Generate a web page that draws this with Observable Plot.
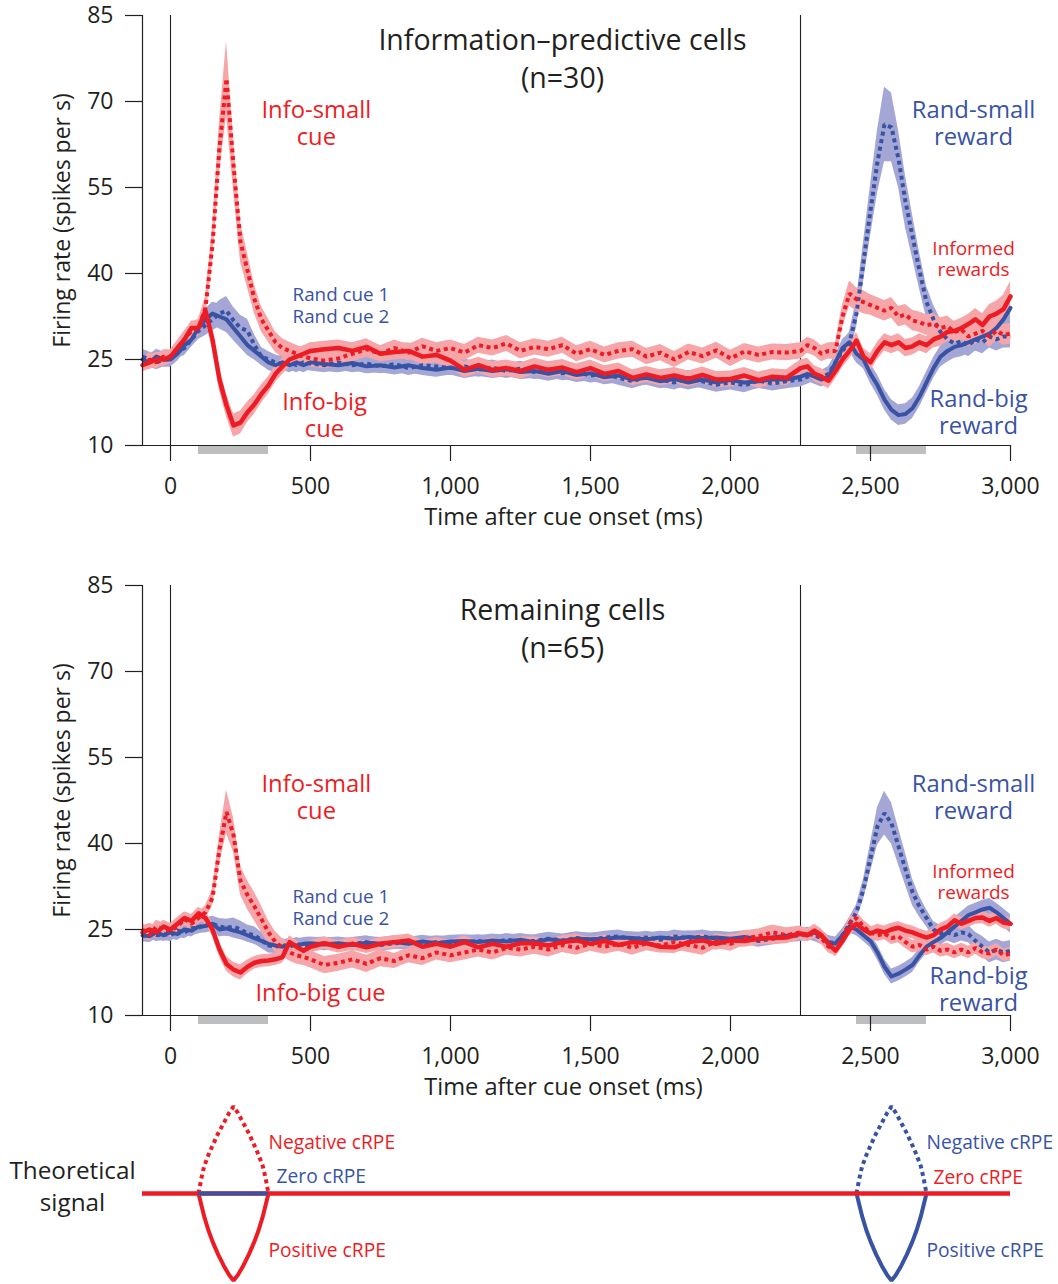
<!DOCTYPE html>
<html>
<head>
<meta charset="utf-8">
<script src="https://cdn.jsdelivr.net/npm/d3@7"></script>
<script src="https://cdn.jsdelivr.net/npm/@observablehq/plot@0.6"></script>
<style>
  html, body { margin: 0; padding: 0; background: #fff; }
  #wrap { position: relative; width: 1058px; height: 1284px; font-family: "Open Sans", sans-serif; }
  .pane { position: absolute; left: 0; }
</style>
</head>
<body>
<div id="wrap"></div>
<script>
// ---------------- DATA ----------------
const time = [-100,-75,-50,-25,0,25,50,75,100,125,150,175,200,225,250,275,300,325,350,375,400,425,450,475,500,
  550,600,650,700,750,800,850,900,950,1000,1050,1100,1150,1200,1250,1300,1350,1400,1450,1500,1550,1600,1650,1700,1750,1800,1850,1900,1950,2000,2050,2100,2150,2200,
  2250,2275,2300,2325,2350,2375,2400,2425,2450,2475,2500,2525,2550,2575,2600,2625,2650,2675,2700,2725,2750,2775,2800,2825,2850,2875,2900,2925,2950,2975,3000];

const xTicks = [0,500,1000,1500,2000,2500,3000];
const yTicks = [10,25,40,55,70,85];
const eventTimes = [0, 2250];
const windows = [{name:"cue", start:100, end:350}, {name:"reward", start:2450, end:2700}];

// Panel 1: Information-predictive cells (n=30)
const p1InfoSmall = [24.0,25.0,24.5,25.5,25.5,27.0,28.5,30.0,30.5,34.0,45.0,62.0,74.0,59.0,45.5,40.5,35.5,32.0,30.0,28.0,27.0,26.5,26.0,25.5,25.2,
  24.8,25.2,26.0,26.8,26.0,27.0,26.2,27.3,26.5,27.0,26.2,27.5,27.0,27.8,26.5,27.2,26.8,27.5,26.0,26.8,25.8,26.5,26.8,25.5,26.2,25.0,26.3,25.6,26.6,25.2,26.4,25.8,26.3,26.2,
  26.5,27.5,27.0,26.0,26.5,26.5,32.5,36.5,35.5,35.0,34.5,34.0,33.5,34.0,32.5,32.8,31.8,31.5,31.0,31.2,30.5,30.8,29.8,30.2,29.0,29.5,30.0,29.0,30.0,29.3,29.5];
const p1InfoSmallSem = [1.2,1.2,1.2,1.2,1.2,1.3,1.5,1.5,1.5,2.0,3.0,4.5,6.5,4.5,3.5,3.0,2.5,2.2,2.0,1.8,1.6,1.5,1.5,1.5,1.5,
  1.4,1.4,1.4,1.4,1.4,1.4,1.4,1.4,1.4,1.4,1.4,1.4,1.4,1.4,1.4,1.4,1.4,1.4,1.4,1.4,1.4,1.4,1.4,1.4,1.4,1.4,1.4,1.4,1.4,1.4,1.4,1.4,1.4,1.4,
  1.4,1.4,1.4,1.4,1.4,1.5,2.0,2.2,2.0,2.0,1.8,1.8,1.8,1.8,1.8,1.8,1.8,1.8,1.8,1.8,1.8,1.8,1.8,1.8,1.8,1.8,1.8,1.8,1.8,1.8,1.8];
const p1InfoBig = [24.0,24.5,25.0,25.0,25.5,27.0,28.5,30.5,30.5,33.5,28.5,21.5,17.0,13.5,14.0,15.8,17.2,19.0,20.5,22.5,23.8,25.0,25.5,26.0,26.5,
  26.8,27.0,26.5,27.2,26.0,26.3,26.5,25.5,25.8,24.8,23.2,24.0,23.2,23.5,23.0,23.8,23.2,23.6,22.8,23.5,22.5,23.0,21.8,22.4,21.8,22.2,21.6,22.3,21.5,21.6,22.2,21.4,22.0,21.8,
  23.5,23.8,22.5,22.0,21.3,23.0,25.0,26.5,28.3,25.5,24.5,26.5,28.0,27.5,28.0,27.0,27.3,28.0,27.5,28.5,29.0,29.8,30.0,30.5,31.2,32.0,31.0,32.5,33.0,33.8,36.0];
const p1InfoBigSem = [1.2,1.2,1.2,1.2,1.2,1.2,1.2,1.2,1.2,1.5,1.8,2.0,2.0,2.0,2.0,1.8,1.7,1.6,1.5,1.5,1.4,1.4,1.4,1.4,1.4,
  1.4,1.4,1.4,1.4,1.4,1.4,1.4,1.4,1.4,1.4,1.4,1.4,1.4,1.4,1.4,1.4,1.4,1.4,1.4,1.4,1.4,1.4,1.4,1.4,1.4,1.4,1.4,1.4,1.4,1.4,1.4,1.4,1.4,1.4,
  1.4,1.4,1.4,1.4,1.4,1.4,1.4,1.4,1.4,1.4,1.5,1.5,1.5,1.5,1.5,1.5,1.5,1.5,1.5,1.5,1.7,1.7,1.7,1.7,1.7,1.9,2.0,2.1,2.2,2.4,2.6];
const p1RandSmall = [25.5,25.0,24.5,25.0,25.0,26.5,27.0,28.5,30.0,31.0,32.0,33.0,33.5,31.8,30.5,30.0,27.5,25.5,25.0,24.5,24.2,24.5,24.0,24.5,24.3,
  24.0,24.5,24.0,24.3,23.8,24.2,23.5,24.0,23.8,23.5,23.8,23.2,23.6,23.0,23.4,22.8,23.2,22.6,22.8,22.2,22.5,21.8,21.2,22.0,21.5,21.0,21.8,21.2,20.6,21.0,20.5,21.3,20.8,21.2,
  21.5,22.0,22.5,21.8,22.5,24.5,26.5,28.0,33.0,42.0,51.0,59.5,66.0,65.5,60.0,52.5,46.5,40.5,35.0,32.0,29.8,28.5,27.8,28.2,27.5,28.5,28.0,29.0,28.5,29.0,29.0];
const p1RandSmallSem = [1.3,1.3,1.3,1.3,1.3,1.3,1.3,1.3,1.5,1.8,2.0,2.3,2.5,2.3,2.2,2.0,1.8,1.6,1.4,1.3,1.3,1.3,1.3,1.3,1.3,
  1.3,1.3,1.3,1.3,1.3,1.3,1.3,1.3,1.3,1.3,1.3,1.3,1.3,1.3,1.3,1.3,1.3,1.3,1.3,1.3,1.3,1.3,1.3,1.3,1.3,1.3,1.3,1.3,1.3,1.3,1.3,1.3,1.3,1.3,
  1.3,1.3,1.3,1.3,1.3,1.3,1.5,1.8,2.5,3.5,4.5,5.5,6.5,6.0,5.0,4.5,3.8,3.2,2.8,2.5,2.2,2.0,2.0,2.0,2.0,2.0,2.0,2.0,2.0,2.0,2.0];
const p1RandBig = [25.0,24.5,25.5,25.0,25.0,26.0,27.5,28.5,30.5,32.0,33.0,32.5,32.0,30.5,29.0,27.5,26.5,25.5,24.5,24.0,24.5,24.0,24.5,24.0,24.5,
  24.2,24.0,24.4,23.8,24.0,23.6,24.0,23.5,23.2,23.6,23.0,23.4,23.0,23.3,22.8,23.0,22.5,23.0,22.3,22.6,21.9,22.2,21.5,21.8,21.2,21.6,21.0,21.5,21.0,21.4,21.0,21.2,21.5,21.5,
  22.0,22.5,22.0,21.5,22.0,24.5,27.0,28.0,26.0,25.0,22.5,20.5,18.0,16.2,15.3,15.5,16.5,18.5,21.0,23.5,25.5,26.5,27.2,27.5,28.0,28.5,29.0,29.5,30.5,32.0,34.0];
const p1RandBigSem = [1.3,1.3,1.3,1.3,1.3,1.3,1.3,1.3,1.5,1.8,2.0,2.2,2.3,2.2,2.0,1.8,1.6,1.5,1.4,1.3,1.3,1.3,1.3,1.3,1.3,
  1.3,1.3,1.3,1.3,1.3,1.3,1.3,1.3,1.3,1.3,1.3,1.3,1.3,1.3,1.3,1.3,1.3,1.3,1.3,1.3,1.3,1.3,1.3,1.3,1.3,1.3,1.3,1.3,1.3,1.3,1.3,1.3,1.3,1.3,
  1.3,1.3,1.3,1.3,1.3,1.3,1.5,1.6,1.6,1.6,1.7,1.8,1.8,1.8,1.8,1.8,1.8,1.8,1.8,1.8,1.8,2.0,2.0,2.0,2.0,2.0,2.2,2.3,2.5,2.8,3.0];

// Panel 2: Remaining cells (n=65)
const p2InfoSmall = [25.0,24.0,25.5,25.0,24.8,25.5,26.8,26.0,27.0,28.0,30.5,39.0,45.5,41.5,33.5,31.0,29.0,26.8,24.5,22.8,21.8,21.0,20.5,20.2,19.8,
  18.8,19.2,19.8,19.0,20.0,19.5,20.5,20.0,21.0,20.5,21.0,21.5,21.0,21.8,21.5,22.0,21.5,22.3,21.8,22.5,22.0,22.5,21.8,22.6,22.2,22.8,22.3,21.8,23.0,22.5,23.5,23.8,24.5,24.0,
  24.5,24.0,24.5,23.5,22.0,21.5,23.5,26.0,27.0,25.5,24.5,24.0,24.3,23.5,23.8,22.8,22.0,22.3,21.5,22.0,21.3,21.5,21.0,21.5,21.0,21.8,21.0,20.8,21.5,20.5,20.8];
const p2InfoSmallSem = [1.1,1.1,1.1,1.1,1.1,1.1,1.1,1.1,1.1,1.1,1.5,2.5,3.8,3.0,2.5,2.5,2.5,2.3,2.0,1.8,1.6,1.5,1.5,1.5,1.5,
  1.5,1.5,1.5,1.5,1.5,1.3,1.3,1.3,1.3,1.3,1.3,1.3,1.3,1.3,1.3,1.3,1.3,1.3,1.3,1.3,1.3,1.3,1.3,1.3,1.3,1.3,1.3,1.3,1.3,1.3,1.3,1.3,1.3,1.3,
  1.1,1.1,1.1,1.1,1.1,1.1,1.1,1.1,1.1,1.1,1.1,1.1,1.1,1.1,1.1,1.1,1.1,1.1,1.1,1.1,1.1,1.1,1.1,1.1,1.1,1.1,1.1,1.1,1.1,1.1,1.1];
const p2InfoBig = [24.5,25.0,24.5,25.5,25.0,26.0,27.0,26.5,27.8,27.0,25.0,21.5,19.0,18.0,17.5,18.5,19.2,19.5,19.6,19.8,20.2,22.8,22.0,21.3,22.0,
  22.6,22.0,22.5,21.9,22.5,22.8,23.1,22.0,22.5,22.0,22.8,21.9,22.5,22.0,22.6,22.6,22.2,22.8,23.1,22.5,23.0,22.3,22.8,22.6,22.0,21.9,22.8,23.1,22.5,23.1,23.0,23.4,23.5,23.6,
  24.3,24.0,24.8,24.0,22.5,21.3,23.0,25.0,26.0,25.0,24.3,24.8,24.5,25.0,25.3,24.8,24.5,24.0,23.6,24.0,25.0,25.5,26.6,26.0,26.5,27.0,27.1,26.5,27.0,26.2,26.0];
const p2InfoBigSem = [1.1,1.1,1.1,1.1,1.1,1.1,1.1,1.1,1.1,1.1,1.2,1.3,1.3,1.3,1.3,1.2,1.1,1.1,1.1,1.1,1.1,1.1,1.1,1.1,1.1,
  1.1,1.1,1.1,1.1,1.1,1.1,1.1,1.1,1.1,1.1,1.1,1.1,1.1,1.1,1.1,1.1,1.1,1.1,1.1,1.1,1.1,1.1,1.1,1.1,1.1,1.1,1.1,1.1,1.1,1.1,1.1,1.1,1.1,1.1,
  1.1,1.1,1.1,1.1,1.1,1.1,1.1,1.1,1.1,1.1,1.1,1.1,1.1,1.1,1.1,1.1,1.1,1.1,1.1,1.1,1.1,1.1,1.1,1.1,1.1,1.1,1.1,1.1,1.1,1.1,1.1];
const p2RandSmall = [23.8,24.5,24.0,24.2,24.0,24.8,24.5,25.2,25.3,25.8,26.0,25.5,25.3,25.5,25.0,24.3,24.0,23.1,22.2,22.0,22.3,22.0,22.5,22.2,22.4,
  22.6,22.2,22.5,22.8,22.3,22.6,22.8,22.5,22.8,22.6,22.8,23.0,22.7,23.2,22.9,23.0,23.4,23.1,23.5,23.2,23.6,23.8,23.3,23.6,23.2,23.8,23.5,23.8,23.4,23.2,23.6,23.0,23.4,23.8,
  24.0,24.3,24.0,23.5,22.8,22.6,24.0,26.0,28.0,32.0,37.5,43.0,45.3,43.5,39.5,35.5,31.5,29.0,27.0,25.0,24.3,24.5,24.0,24.5,24.2,23.0,22.0,21.0,21.5,21.0,21.3];
const p2RandSmallSem = [1.1,1.1,1.1,1.1,1.1,1.1,1.1,1.1,1.1,1.2,1.3,1.4,1.5,1.5,1.5,1.5,1.5,1.4,1.3,1.2,1.1,1.1,1.1,1.1,1.1,
  1.1,1.1,1.1,1.1,1.1,1.1,1.1,1.1,1.1,1.1,1.1,1.1,1.1,1.1,1.1,1.1,1.1,1.1,1.1,1.1,1.1,1.1,1.1,1.1,1.1,1.1,1.1,1.1,1.1,1.1,1.1,1.1,1.1,1.1,
  1.1,1.1,1.1,1.1,1.1,1.1,1.1,1.1,1.3,1.8,2.5,3.3,3.8,3.6,3.2,2.8,2.3,1.8,1.5,1.4,1.4,1.5,1.5,1.5,1.5,1.5,1.8,1.8,1.8,1.8,1.8];
const p2RandBig = [24.0,23.8,24.5,24.0,24.5,24.2,25.0,24.8,25.5,25.6,26.0,25.0,25.2,24.8,24.5,24.0,23.5,23.0,22.5,22.2,22.0,22.4,22.2,22.5,22.6,
  22.4,22.6,22.3,22.7,22.5,22.8,22.5,22.9,22.6,22.9,23.0,22.8,23.1,22.9,23.2,22.8,23.3,23.0,23.4,23.3,23.4,23.6,23.5,23.3,23.6,23.4,23.7,23.5,23.6,23.4,23.7,23.3,23.6,23.9,
  24.2,24.0,24.5,23.8,22.8,22.5,24.0,25.5,25.0,24.0,23.0,21.0,18.5,16.8,17.3,18.0,18.8,20.5,22.0,22.8,23.5,24.5,25.5,26.5,27.5,28.0,28.5,28.8,28.0,27.0,26.0];
const p2RandBigSem = [1.1,1.1,1.1,1.1,1.1,1.1,1.1,1.1,1.1,1.2,1.3,1.3,1.3,1.3,1.3,1.2,1.1,1.1,1.1,1.1,1.1,1.1,1.1,1.1,1.1,
  1.1,1.1,1.1,1.1,1.1,1.1,1.1,1.1,1.1,1.1,1.1,1.1,1.1,1.1,1.1,1.1,1.1,1.1,1.1,1.1,1.1,1.1,1.1,1.1,1.1,1.1,1.1,1.1,1.1,1.1,1.1,1.1,1.1,1.1,
  1.1,1.1,1.1,1.1,1.1,1.1,1.1,1.1,1.1,1.1,1.2,1.3,1.3,1.3,1.3,1.3,1.3,1.2,1.2,1.2,1.3,1.4,1.6,1.6,1.6,1.6,1.6,1.6,1.6,1.6,1.6];

// Theoretical signal: shape offsets (ms from window start) and amplitudes
const shapeOffset = [0,10,20,35,50,70,90,110,125,140,160,180,200,215,230,240,250];
const negativeShape = [0,0.17,0.31,0.44,0.55,0.69,0.81,0.93,1.0,0.93,0.81,0.69,0.55,0.44,0.31,0.17,0];
const positiveShape = [0,-0.13,-0.26,-0.42,-0.55,-0.7,-0.83,-0.94,-1.0,-0.94,-0.83,-0.7,-0.55,-0.42,-0.26,-0.13,0];

// Annotations (data coordinates)
const p1Labels = [
  {text:"Information\u2013predictive cells\n(n=30)", t:1400, v:77.8, kind:"title"},
  {text:"Info-small\ncue", t:521, v:66.2, kind:"bigRed"},
  {text:"Rand cue 1\nRand cue 2", t:436, v:34.6, kind:"randCue"},
  {text:"Info-big\ncue", t:550, v:15.4, kind:"bigRed"},
  {text:"Rand-small\nreward", t:2868, v:66.2, kind:"bigBlue"},
  {text:"Informed\nrewards", t:2868, v:42.5, kind:"informed"},
  {text:"Rand-big\nreward", t:2886, v:15.9, kind:"bigBlue"}
];
const p2Labels = [
  {text:"Remaining cells\n(n=65)", t:1400, v:77.8, kind:"title"},
  {text:"Info-small\ncue", t:521, v:48.1, kind:"bigRed"},
  {text:"Rand cue 1\nRand cue 2", t:436, v:29.0, kind:"randCue"},
  {text:"Info-big cue", t:536, v:14.0, kind:"bigRed"},
  {text:"Rand-small\nreward", t:2868, v:48.1, kind:"bigBlue"},
  {text:"Informed\nrewards", t:2868, v:33.3, kind:"informed"},
  {text:"Rand-big\nreward", t:2886, v:14.7, kind:"bigBlue"}
];
const signalLabels = [
  {text:"Negative cRPE", t:350, v:0.6, kind:"sigRed"},
  {text:"Zero cRPE", t:379, v:0.2, kind:"sigBlue"},
  {text:"Positive cRPE", t:350, v:-0.64, kind:"sigRed"},
  {text:"Negative cRPE", t:2700, v:0.6, kind:"sigBlue"},
  {text:"Zero cRPE", t:2725, v:0.19, kind:"sigRed"},
  {text:"Positive cRPE", t:2700, v:-0.64, kind:"sigBlue"}
];

// ---------------- STYLE ----------------
const RED = "#ED1C24", BLUE = "#3953A4", PINK = "#F6A5A8", LAV = "#A4A6D5", INK = "#231F20", GREY = "#BCBEC0";
const FONT = "Open Sans";
const styles = {
  title:   {fill: INK,  fontSize: 28.5, lineHeight: 1.33, textAnchor: "middle"},
  bigRed:  {fill: RED,  fontSize: 23.8, lineHeight: 1.13, textAnchor: "middle"},
  bigBlue: {fill: BLUE, fontSize: 23.8, lineHeight: 1.13, textAnchor: "middle"},
  randCue: {fill: BLUE, fontSize: 18.8, lineHeight: 1.17, textAnchor: "start"},
  informed:{fill: RED,  fontSize: 19,   lineHeight: 1.1,  textAnchor: "middle"},
  sigRed:  {fill: RED,  fontSize: 19.2, lineHeight: 1.2,  textAnchor: "start"},
  sigBlue: {fill: BLUE, fontSize: 19.2, lineHeight: 1.2,  textAnchor: "start"}
};

function rows(vals, sems) {
  return time.map((t, i) => ({t, v: vals[i], lo: vals[i] - sems[i], hi: vals[i] + sems[i]}));
}

function labelMarks(labels) {
  return Object.keys(styles).map(k => {
    const d = labels.filter(l => l.kind === k);
    if (!d.length) return null;
    return Plot.text(d, {x: "t", y: "v", text: "text", ...styles[k], lineAnchor: "middle", fontFamily: FONT});
  }).filter(Boolean);
}

const DOT = "4,3.6";

function panel(series, labels) {
  const infoSmall = rows(series.infoSmall, series.infoSmallSem);
  const infoBig = rows(series.infoBig, series.infoBigSem);
  const randSmall = rows(series.randSmall, series.randSmallSem);
  const randBig = rows(series.randBig, series.randBigSem);
  return Plot.plot({
    width: 1058, height: 540,
    marginLeft: 142, marginRight: 48, marginTop: 15, marginBottom: 95,
    x: {domain: [-100, 3000]},
    y: {domain: [10, 85]},
    style: {fontFamily: FONT, fontSize: "23px", color: INK, background: "transparent", overflow: "visible"},
    marks: [
      Plot.ruleX(eventTimes, {stroke: INK, strokeWidth: 1.1}),
      Plot.rect(windows, {x1: "start", x2: "end", y1: 10, y2: 10, insetTop: 1, insetBottom: -9, fill: GREY}),
      Plot.areaY(randSmall, {x: "t", y1: "lo", y2: "hi", fill: LAV}),
      Plot.areaY(randBig, {x: "t", y1: "lo", y2: "hi", fill: LAV}),
      Plot.areaY(infoSmall, {x: "t", y1: "lo", y2: "hi", fill: PINK}),
      Plot.areaY(infoBig, {x: "t", y1: "lo", y2: "hi", fill: PINK}),
      Plot.lineY(randBig, {x: "t", y: "v", stroke: BLUE, strokeWidth: 4}),
      Plot.lineY(randSmall, {x: "t", y: "v", stroke: BLUE, strokeWidth: 4, strokeDasharray: DOT, strokeLinecap: "butt", strokeLinejoin: "miter"}),
      Plot.lineY(infoSmall, {x: "t", y: "v", stroke: RED, strokeWidth: 4, strokeDasharray: DOT, strokeLinecap: "butt", strokeLinejoin: "miter"}),
      Plot.lineY(infoBig, {x: "t", y: "v", stroke: RED, strokeWidth: 4.5}),
      Plot.ruleX([-100], {stroke: INK, strokeWidth: 1.2}),
      Plot.ruleY([10], {stroke: INK, strokeWidth: 1.2}),
      Plot.axisY({ticks: yTicks, tickSize: 17, tickPadding: 12, label: null, strokeWidth: 1.2}),
      Plot.axisX({ticks: xTicks, tickSize: 16, tickPadding: 16, tickFormat: d3.format(","), label: null, strokeWidth: 1.2}),
      Plot.text(["Firing rate (spikes per s)"], {frameAnchor: "left", textAnchor: "middle", lineAnchor: "middle", rotate: -90, dx: -80, dy: -10, fontSize: 23, fill: INK}),
      Plot.text(["Time after cue onset (ms)"], {frameAnchor: "bottom", textAnchor: "middle", lineAnchor: "middle", dx: -13, dy: 72, fontSize: 23.6, fill: INK}),
      ...labelMarks(labels)
    ]
  });
}

function signalPanel() {
  const cue = windows[0], rew = windows[1];
  const shape = (w, amp) => shapeOffset.map((o, i) => ({t: w.start + o, v: amp[i]}));
  return Plot.plot({
    width: 1058, height: 194,
    marginLeft: 142, marginRight: 48, marginTop: 16, marginBottom: 4,
    x: {domain: [-100, 3000], axis: null},
    y: {domain: [-1, 1], axis: null},
    style: {fontFamily: FONT, fontSize: "19px", color: INK, background: "transparent", overflow: "visible"},
    marks: [
      Plot.line(shape(cue, negativeShape), {x: "t", y: "v", stroke: RED, strokeWidth: 4, strokeDasharray: DOT, strokeLinecap: "butt", strokeLinejoin: "miter"}),
      Plot.line(shape(cue, positiveShape), {x: "t", y: "v", stroke: RED, strokeWidth: 4, strokeLinejoin: "miter"}),
      Plot.line(shape(rew, negativeShape), {x: "t", y: "v", stroke: BLUE, strokeWidth: 4, strokeDasharray: DOT, strokeLinecap: "butt", strokeLinejoin: "miter"}),
      Plot.line(shape(rew, positiveShape), {x: "t", y: "v", stroke: BLUE, strokeWidth: 4, strokeLinejoin: "miter"}),
      Plot.ruleY([0], {stroke: RED, strokeWidth: 4.5}),
      Plot.ruleY([cue], {y: () => 0, x1: "start", x2: "end", stroke: BLUE, strokeWidth: 4}),
      Plot.text(["Theoretical\nsignal"], {frameAnchor: "left", dx: -70, dy: -9, fontSize: 24.3, lineHeight: 1.32, lineAnchor: "middle", fill: INK, textAnchor: "middle"}),
      ...labelMarks(signalLabels)
    ]
  });
}

const wrap = document.getElementById("wrap");
function place(node, top) {
  const d = document.createElement("div");
  d.className = "pane";
  d.style.top = top + "px";
  d.appendChild(node);
  wrap.appendChild(d);
}
place(panel({infoSmall: p1InfoSmall, infoSmallSem: p1InfoSmallSem, infoBig: p1InfoBig, infoBigSem: p1InfoBigSem,
             randSmall: p1RandSmall, randSmallSem: p1RandSmallSem, randBig: p1RandBig, randBigSem: p1RandBigSem}, p1Labels), 0);
place(panel({infoSmall: p2InfoSmall, infoSmallSem: p2InfoSmallSem, infoBig: p2InfoBig, infoBigSem: p2InfoBigSem,
             randSmall: p2RandSmall, randSmallSem: p2RandSmallSem, randBig: p2RandBig, randBigSem: p2RandBigSem}, p2Labels), 570);
place(signalPanel(), 1090);
</script>
</body>
</html>
